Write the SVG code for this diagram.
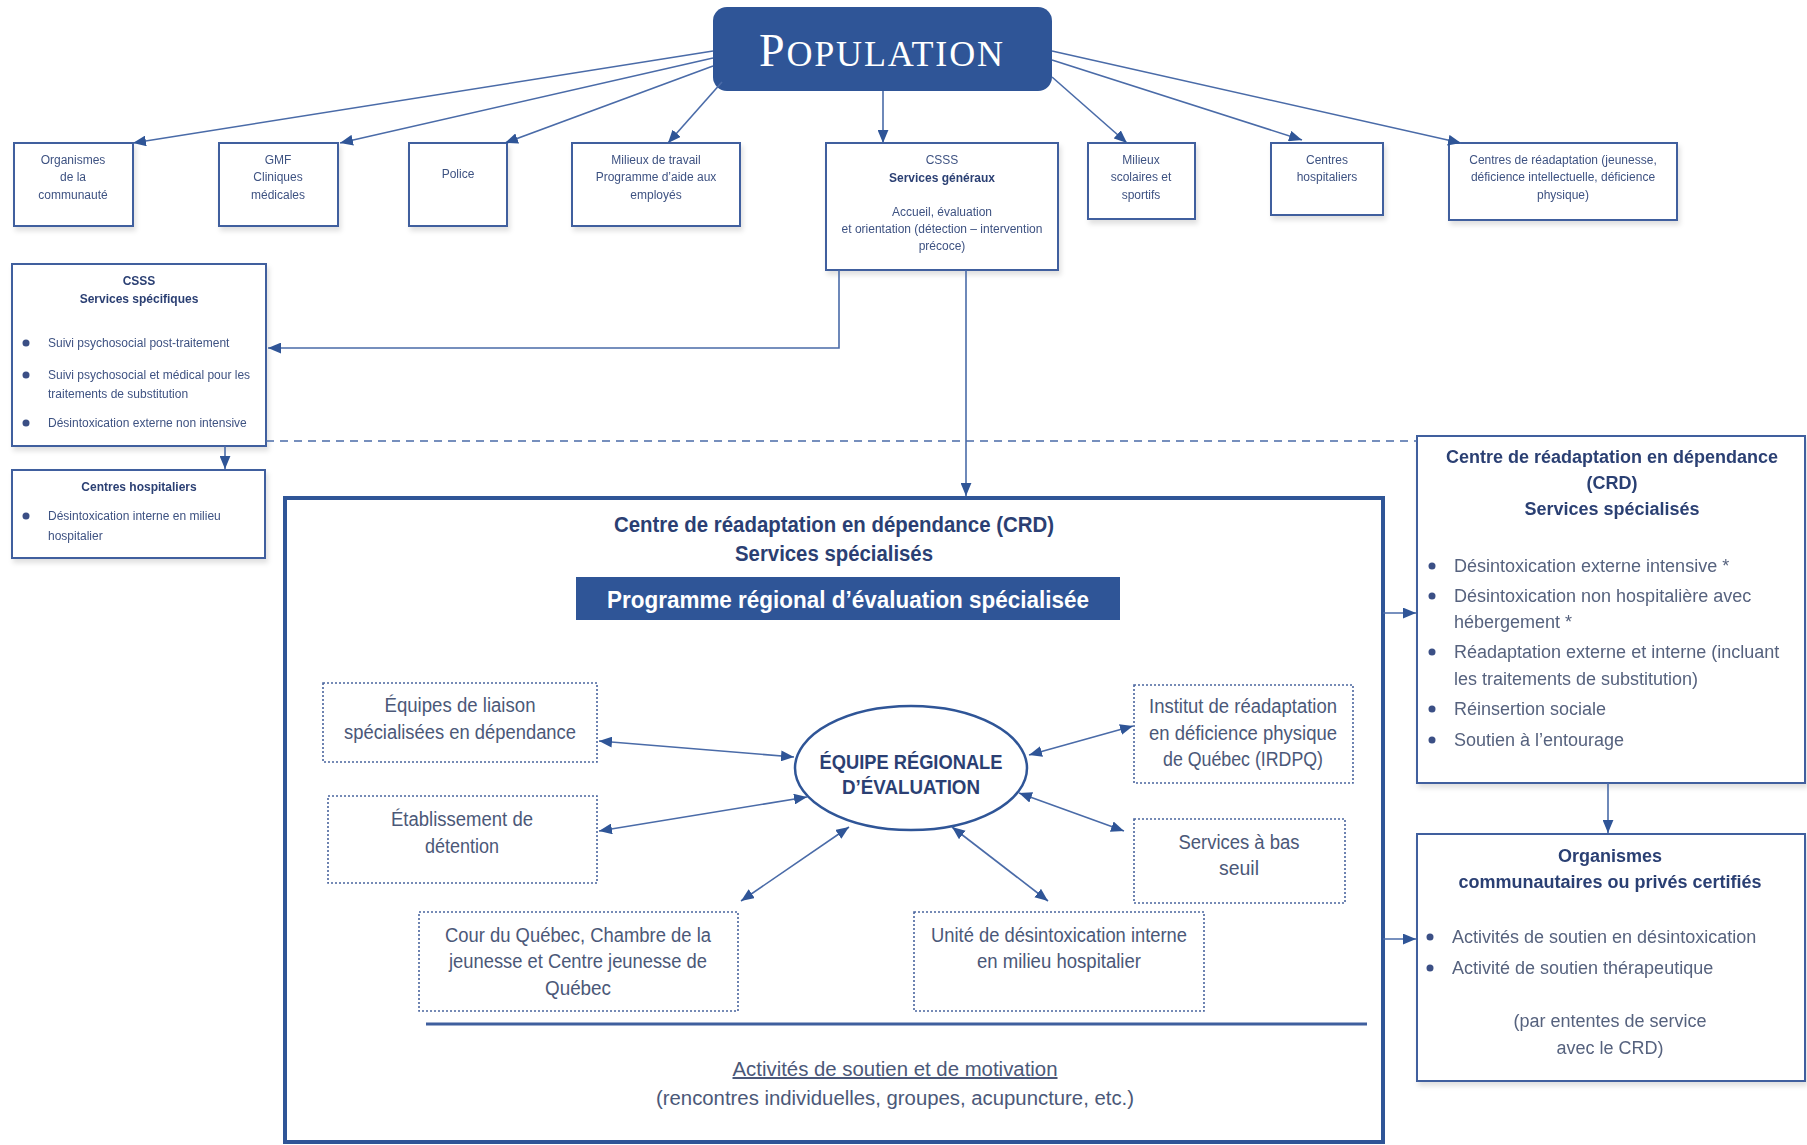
<svg xmlns="http://www.w3.org/2000/svg" width="1807" height="1145" viewBox="0 0 1807 1145">
<defs>
<marker id="ah" viewBox="0 0 12 10" refX="12" refY="5" markerWidth="13" markerHeight="11" markerUnits="userSpaceOnUse" orient="auto-start-reverse"><path d="M0,0 L12,5 L0,10 z" fill="#2F5597"/></marker>
<filter id="sh" x="-10%" y="-10%" width="130%" height="140%"><feDropShadow dx="2" dy="4" stdDeviation="2.5" flood-color="#000" flood-opacity="0.12"/></filter>
</defs>
<style>
.box{fill:#fff;stroke:#3F5F9E;stroke-width:2}
.dot{fill:#fff;stroke:#4A659E;stroke-width:1.6;stroke-dasharray:2 2}
.t{font-family:"Liberation Sans",Arial,sans-serif;font-size:12px;fill:#3E5282;text-anchor:middle}
.tb{font-weight:bold;fill:#2B3F73}
.tl{text-anchor:start}
.m{font-family:"Liberation Sans",Arial,sans-serif;font-size:20px;fill:#4B5878;text-anchor:middle}
.r{font-family:"Liberation Sans",Arial,sans-serif;font-size:18px;fill:#56627E}
.rb{font-family:"Liberation Sans",Arial,sans-serif;font-size:18px;font-weight:bold;fill:#2B3F73;text-anchor:middle}
.ln{fill:none;stroke:#4A6BA8;stroke-width:1.6}
.bul{fill:#3A4F85}
</style>
<rect width="1807" height="1145" fill="#fff"/>

<g id="population">
<rect x="713" y="7" width="339" height="84" rx="14" fill="#2F5597"/>
<text x="882" y="66" font-family="Liberation Serif,Times New Roman,serif" font-size="46" fill="#fff" text-anchor="middle" letter-spacing="2" textLength="246" lengthAdjust="spacing">P<tspan font-size="36">OPULATION</tspan></text>
</g>

<g id="organismes-communaute" filter="url(#sh)">
<rect class="box" x="14" y="143" width="119" height="83"/>
<text class="t" x="73" y="164">Organismes</text>
<text class="t" x="73" y="181">de la</text>
<text class="t" x="73" y="199">communauté</text>
</g>
<g id="gmf" filter="url(#sh)">
<rect class="box" x="219" y="143" width="119" height="83"/>
<text class="t" x="278" y="164">GMF</text>
<text class="t" x="278" y="181">Cliniques</text>
<text class="t" x="278" y="199">médicales</text>
</g>
<g id="police" filter="url(#sh)">
<rect class="box" x="409" y="143" width="98" height="83"/>
<text class="t" x="458" y="178">Police</text>
</g>
<g id="milieux-travail" filter="url(#sh)">
<rect class="box" x="572" y="143" width="168" height="83"/>
<text class="t" x="656" y="164">Milieux de travail</text>
<text class="t" x="656" y="181">Programme d’aide aux</text>
<text class="t" x="656" y="199">employés</text>
</g>
<g id="csss-generaux" filter="url(#sh)">
<rect class="box" x="826" y="143" width="232" height="127"/>
<text class="t" x="942" y="164">CSSS</text>
<text class="t tb" x="942" y="182">Services généraux</text>
<text class="t" x="942" y="216">Accueil, évaluation</text>
<text class="t" x="942" y="233" font-size="11.5">et orientation (détection – intervention</text>
<text class="t" x="942" y="250">précoce)</text>
</g>
<g id="milieux-scolaires" filter="url(#sh)">
<rect class="box" x="1088" y="143" width="107" height="76"/>
<text class="t" x="1141" y="164">Milieux</text>
<text class="t" x="1141" y="181">scolaires et</text>
<text class="t" x="1141" y="199">sportifs</text>
</g>
<g id="centres-hospitaliers-haut" filter="url(#sh)">
<rect class="box" x="1271" y="143" width="112" height="72"/>
<text class="t" x="1327" y="164">Centres</text>
<text class="t" x="1327" y="181">hospitaliers</text>
</g>
<g id="centres-readaptation" filter="url(#sh)">
<rect class="box" x="1449" y="143" width="228" height="77"/>
<text class="t" x="1563" y="164">Centres de réadaptation (jeunesse,</text>
<text class="t" x="1563" y="181">déficience intellectuelle, déficience</text>
<text class="t" x="1563" y="199">physique)</text>
</g>

<g id="csss-specifiques" filter="url(#sh)">
<rect class="box" x="12" y="264" width="254" height="182"/>
<text class="t tb" x="139" y="285">CSSS</text>
<text class="t tb" x="139" y="303">Services spécifiques</text>
<circle class="bul" cx="26" cy="343" r="3.5"/>
<text class="t tl" x="48" y="347">Suivi psychosocial post-traitement</text>
<circle class="bul" cx="26" cy="375" r="3.5"/>
<text class="t tl" x="48" y="379">Suivi psychosocial et médical pour les</text>
<text class="t tl" x="48" y="398">traitements de substitution</text>
<circle class="bul" cx="26" cy="423" r="3.5"/>
<text class="t tl" x="48" y="427">Désintoxication externe non intensive</text>
</g>
<g id="centres-hospitaliers-gauche" filter="url(#sh)">
<rect class="box" x="12" y="470" width="253" height="88"/>
<text class="t tb" x="139" y="491">Centres hospitaliers</text>
<circle class="bul" cx="26" cy="516" r="3.5"/>
<text class="t tl" x="48" y="520">Désintoxication interne en milieu</text>
<text class="t tl" x="48" y="540">hospitalier</text>
</g>

<g id="crd-programme">
<rect x="285" y="498" width="1098" height="644" fill="#fff" stroke="#2F5597" stroke-width="4"/>
<text x="834" y="532" font-family="Liberation Sans Narrow,Liberation Sans,Arial,sans-serif" font-size="22" font-weight="bold" fill="#2B3F73" text-anchor="middle" textLength="440" lengthAdjust="spacingAndGlyphs">Centre de réadaptation en dépendance (CRD)</text>
<text x="834" y="561" font-family="Liberation Sans Narrow,Liberation Sans,Arial,sans-serif" font-size="22" font-weight="bold" fill="#2B3F73" text-anchor="middle" textLength="198" lengthAdjust="spacingAndGlyphs">Services spécialisés</text>
<rect x="576" y="577" width="544" height="43" fill="#2F5597"/>
<text x="848" y="608" font-family="Liberation Sans Narrow,Liberation Sans,Arial,sans-serif" font-size="24" font-weight="bold" fill="#fff" text-anchor="middle" textLength="482" lengthAdjust="spacingAndGlyphs">Programme régional d’évaluation spécialisée</text>
<line x1="426" y1="1024" x2="1367" y2="1024" stroke="#3F5F9E" stroke-width="3"/>
<text class="m" x="895" y="1076" text-decoration="underline" textLength="325" lengthAdjust="spacingAndGlyphs">Activités de soutien et de motivation</text>
<text class="m" x="895" y="1105" textLength="478" lengthAdjust="spacingAndGlyphs">(rencontres individuelles, groupes, acupuncture, etc.)</text>
</g>

<g id="equipe-regionale">
<ellipse cx="911" cy="768" rx="116" ry="62" fill="#fff" stroke="#2F5597" stroke-width="2.5"/>
<text x="911" y="769" font-family="Liberation Sans Narrow,Liberation Sans,Arial,sans-serif" font-size="20" font-weight="bold" fill="#2B3F73" text-anchor="middle" textLength="183" lengthAdjust="spacingAndGlyphs">ÉQUIPE RÉGIONALE</text>
<text x="911" y="794" font-family="Liberation Sans Narrow,Liberation Sans,Arial,sans-serif" font-size="20" font-weight="bold" fill="#2B3F73" text-anchor="middle" textLength="138" lengthAdjust="spacingAndGlyphs">D’ÉVALUATION</text>
</g>
<g id="equipes-liaison">
<rect class="dot" x="323" y="683" width="274" height="79"/>
<text class="m" x="460" y="712" textLength="151" lengthAdjust="spacingAndGlyphs">Équipes de liaison</text>
<text class="m" x="460" y="739" textLength="232" lengthAdjust="spacingAndGlyphs">spécialisées en dépendance</text>
</g>
<g id="etablissement-detention">
<rect class="dot" x="328" y="796" width="269" height="87"/>
<text class="m" x="462" y="826" textLength="142" lengthAdjust="spacingAndGlyphs">Établissement de</text>
<text class="m" x="462" y="853" textLength="74" lengthAdjust="spacingAndGlyphs">détention</text>
</g>
<g id="cour-quebec">
<rect class="dot" x="419" y="912" width="319" height="99"/>
<text class="m" x="578" y="942" textLength="266" lengthAdjust="spacingAndGlyphs">Cour du Québec, Chambre de la</text>
<text class="m" x="578" y="968" textLength="258" lengthAdjust="spacingAndGlyphs">jeunesse et Centre jeunesse de</text>
<text class="m" x="578" y="995" textLength="66" lengthAdjust="spacingAndGlyphs">Québec</text>
</g>
<g id="unite-desintoxication">
<rect class="dot" x="914" y="912" width="290" height="99"/>
<text class="m" x="1059" y="942" textLength="256" lengthAdjust="spacingAndGlyphs">Unité de désintoxication interne</text>
<text class="m" x="1059" y="968" textLength="164" lengthAdjust="spacingAndGlyphs">en milieu hospitalier</text>
</g>
<g id="irdpq">
<rect class="dot" x="1134" y="685" width="219" height="98"/>
<text class="m" x="1243" y="713" textLength="188" lengthAdjust="spacingAndGlyphs">Institut de réadaptation</text>
<text class="m" x="1243" y="740" textLength="188" lengthAdjust="spacingAndGlyphs">en déficience physique</text>
<text class="m" x="1243" y="766" textLength="160" lengthAdjust="spacingAndGlyphs">de Québec (IRDPQ)</text>
</g>
<g id="services-bas-seuil">
<rect class="dot" x="1134" y="819" width="211" height="84"/>
<text class="m" x="1239" y="849" textLength="121" lengthAdjust="spacingAndGlyphs">Services à bas</text>
<text class="m" x="1239" y="875" textLength="40" lengthAdjust="spacingAndGlyphs">seuil</text>
</g>

<g id="crd-specialises" filter="url(#sh)">
<rect class="box" x="1417" y="436" width="388" height="347"/>
<text class="rb" x="1612" y="463">Centre de réadaptation en dépendance</text>
<text class="rb" x="1612" y="489">(CRD)</text>
<text class="rb" x="1612" y="515">Services spécialisés</text>
<circle class="bul" cx="1432" cy="566" r="3.5"/>
<text class="r" x="1454" y="572">Désintoxication externe intensive *</text>
<circle class="bul" cx="1432" cy="596" r="3.5"/>
<text class="r" x="1454" y="602">Désintoxication non hospitalière avec</text>
<text class="r" x="1454" y="628">hébergement *</text>
<circle class="bul" cx="1432" cy="652" r="3.5"/>
<text class="r" x="1454" y="658">Réadaptation externe et interne (incluant</text>
<text class="r" x="1454" y="685">les traitements de substitution)</text>
<circle class="bul" cx="1432" cy="709" r="3.5"/>
<text class="r" x="1454" y="715">Réinsertion sociale</text>
<circle class="bul" cx="1432" cy="740" r="3.5"/>
<text class="r" x="1454" y="746">Soutien à l’entourage</text>
</g>
<g id="organismes-certifies" filter="url(#sh)">
<rect class="box" x="1417" y="834" width="388" height="247"/>
<text class="rb" x="1610" y="862">Organismes</text>
<text class="rb" x="1610" y="888">communautaires ou privés certifiés</text>
<circle class="bul" cx="1430" cy="937" r="3.5"/>
<text class="r" x="1452" y="943">Activités de soutien en désintoxication</text>
<circle class="bul" cx="1430" cy="968" r="3.5"/>
<text class="r" x="1452" y="974">Activité de soutien thérapeutique</text>
<text class="r" x="1610" y="1027" text-anchor="middle">(par ententes de service</text>
<text class="r" x="1610" y="1054" text-anchor="middle">avec le CRD)</text>
</g>

<g id="connectors">
<line class="ln" x1="713" y1="51" x2="133" y2="143" marker-end="url(#ah)"/>
<line class="ln" x1="713" y1="58" x2="340" y2="143" marker-end="url(#ah)"/>
<line class="ln" x1="713" y1="66" x2="505" y2="143" marker-end="url(#ah)"/>
<line class="ln" x1="722" y1="82" x2="668" y2="143" marker-end="url(#ah)"/>
<line class="ln" x1="883" y1="91" x2="883" y2="143" marker-end="url(#ah)"/>
<line class="ln" x1="1052" y1="77" x2="1127" y2="143" marker-end="url(#ah)"/>
<line class="ln" x1="1052" y1="60" x2="1302" y2="140" marker-end="url(#ah)"/>
<line class="ln" x1="1052" y1="51" x2="1461" y2="143" marker-end="url(#ah)"/>
<polyline class="ln" points="839,270 839,348 268,348" marker-end="url(#ah)"/>
<line class="ln" x1="966" y1="270" x2="966" y2="496" marker-end="url(#ah)"/>
<line x1="266" y1="441" x2="1417" y2="441" stroke="#4A6BA8" stroke-width="1.5" stroke-dasharray="8 6"/>
<line class="ln" x1="225" y1="446" x2="225" y2="469" marker-end="url(#ah)"/>
<line class="ln" x1="1383" y1="613" x2="1416" y2="613" marker-end="url(#ah)"/>
<line class="ln" x1="1383" y1="939" x2="1416" y2="939" marker-end="url(#ah)"/>
<line class="ln" x1="1608" y1="783" x2="1608" y2="833" marker-end="url(#ah)"/>
<line class="ln" x1="599" y1="741" x2="794" y2="757" marker-start="url(#ah)" marker-end="url(#ah)"/>
<line class="ln" x1="599" y1="831" x2="807" y2="797" marker-start="url(#ah)" marker-end="url(#ah)"/>
<line class="ln" x1="741" y1="901" x2="849" y2="827" marker-start="url(#ah)" marker-end="url(#ah)"/>
<line class="ln" x1="952" y1="827" x2="1048" y2="901" marker-start="url(#ah)" marker-end="url(#ah)"/>
<line class="ln" x1="1019" y1="793" x2="1124" y2="831" marker-start="url(#ah)" marker-end="url(#ah)"/>
<line class="ln" x1="1029" y1="755" x2="1133" y2="726" marker-start="url(#ah)" marker-end="url(#ah)"/>
</g>
</svg>
